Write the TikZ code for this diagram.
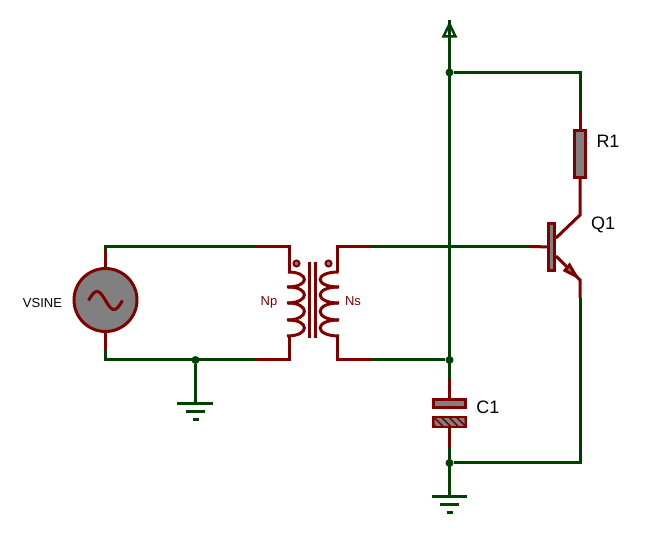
\documentclass[tikz,border=0pt]{standalone}
\usepackage{fontspec}
\setmainfont{Liberation Sans}
\definecolor{wirered}{RGB}{128,0,0}
\definecolor{wiregreen}{RGB}{0,64,0}
\definecolor{partgrey}{RGB}{128,128,128}
\tikzset{
  redwire/.style={draw=wirered, line width=3pt, line join=miter},
  greenwire/.style={draw=wiregreen, line width=3pt, line join=miter},
  part/.style={draw=wirered, fill=partgrey, line width=3pt, inner sep=0pt, outer sep=0pt},
  dot/.style={circle, fill=wiregreen, inner sep=0pt, minimum size=8pt},
  label/.style={text=black, font=\fontsize{18}{18}\selectfont, inner sep=0pt},
}
\begin{document}
\begin{tikzpicture}[x=1pt, y=-1pt]
  \useasboundingbox (0, 0) rectangle (659, 534);

  % parts
  \node[part, circle, minimum size=63pt] (vsine) at (105.5, 300) {};
  \node[part, minimum width=11pt, minimum height=47pt] (r1) at (580, 154) {};
  \node[part, minimum width=6.5pt, minimum height=47pt] (qbase) at (551.5, 247) {};
  \node[part, minimum width=32pt, minimum height=8pt] (ctop) at (449.5, 403.5) {};
  \node[part, minimum width=32pt, minimum height=9pt] (cbot) at (449.5, 422) {};

  % junctions
  \node[dot] (jtop) at (449.5, 72.5) {};
  \node[dot] (jmid) at (449.5, 360) {};
  \node[dot] (jcap) at (449.5, 463) {};
  \node[dot] (jgnd) at (195.5, 360) {};

  % wire ends
  \coordinate (vcc) at (449.5, 20);
  \coordinate (gndcap) at (449.5, 496);
  \coordinate (gndsrc) at (195.5, 403);
  \coordinate (rtop) at (580, 112);
  \coordinate (rbot) at (580, 215);
  \coordinate (srctop) at (105.5, 250);
  \coordinate (srcbot) at (105.5, 350);
  \coordinate (ptop) at (289, 272);
  \coordinate (pbot) at (289, 336);
  \coordinate (stop) at (337.5, 272);
  \coordinate (sbot) at (337.5, 336);
  \coordinate (ptopr) at (255, 246.5);
  \coordinate (pbotr) at (255, 360);
  \coordinate (stopr) at (372, 246.5);
  \coordinate (sbotr) at (372, 360);
  \coordinate (baser) at (530, 246.5);
  \coordinate (qcol) at (556, 238);
  \coordinate (qemi) at (556, 256);
  \coordinate (qtip) at (580, 280);
  \coordinate (emir) at (580, 298);
  \coordinate (ctopw) at (449.5, 380);
  \coordinate (cbotw) at (449.5, 447);

  % green wires
  \draw[greenwire] (vcc) -- (ctopw);
  \draw[greenwire] (jtop) -| (rtop);
  \draw[greenwire] (srctop) |- (ptopr);
  \draw[greenwire] (srcbot) |- (pbotr);
  \draw[greenwire] (jgnd) -- (gndsrc);
  \draw[greenwire] (stopr) -- (baser);
  \draw[greenwire] (sbotr) -- (jmid);
  \draw[greenwire] (emir) |- (jcap);
  \draw[greenwire] (cbotw) -- (gndcap);

  % red wires
  \draw[redwire] (rtop) -- (r1);
  \draw[redwire] (r1) -- (rbot) -- (qcol);
  \draw[redwire] (baser) -- (qbase);
  \draw[redwire] (qemi) -- (qtip) -- (emir);
  \draw[redwire] (srctop) -- (vsine);
  \draw[redwire] (srcbot) -- (vsine);
  \draw[redwire] (ptopr) -| (ptop);
  \draw[redwire] (pbotr) -| (pbot);
  \draw[redwire] (stopr) -| (stop);
  \draw[redwire] (sbotr) -| (sbot);
  \draw[redwire] (ctopw) -- (ctop);
  \draw[redwire] (cbot) -- (cbotw);

  % emitter arrow
  \draw[part, line join=miter] (576, 276) -- (569.5, 265) -- (565, 270.5) -- cycle;

  % hatch of the lower plate
  \begin{scope}
    \clip (434.5, 418.5) rectangle (464.5, 425.5);
    \fill[wirered] (434.5, 418.5) rectangle (464.5, 425.5);
    \foreach \x in {434, 441.5, 449, 456.5, 464}
      \draw[partgrey, line width=3.5pt] (\x - 4, 417) -- (\x + 6, 427);
  \end{scope}

  % supply arrow
  \draw[greenwire, line width=2.5pt] (449.5, 24) -- (443.5, 36.5) -- (455.5, 36.5) -- cycle;

  % grounds
  \draw[greenwire] (432, 496.5) -- (467, 496.5);
  \draw[greenwire] (440, 504.5) -- (459, 504.5);
  \draw[greenwire] (446.5, 512.5) -- (452.5, 512.5);
  \draw[greenwire] (177, 403.5) -- (213, 403.5);
  \draw[greenwire] (186, 411.5) -- (205, 411.5);
  \draw[greenwire] (192.5, 419.5) -- (198.5, 419.5);

  % sine of the source
  \draw[draw=wirered, line width=3pt, domain=-180:180, samples=40, smooth]
    plot ({105.5 + \x*17/180}, {300.5 + 9*sin(\x)});

  % transformer
  \foreach \a/\b in {272/287, 287/303, 303/320, 320/336} {
    \draw[draw=wirered, line width=3pt] (288, \a) .. controls (310, \a) and (310, \b) .. (287, \b);
    \draw[draw=wirered, line width=3pt] (338.5, \a) .. controls (314, \a) and (314, \b) .. (339, \b);
  }
  \draw[draw=wirered, line width=3pt] (309.5, 262) -- (309.5, 338);
  \draw[draw=wirered, line width=3pt] (315.5, 262) -- (315.5, 338);
  \draw[draw=wirered, fill=partgrey, line width=2pt] (296.5, 263.5) circle (3);
  \draw[draw=wirered, fill=partgrey, line width=2pt] (328.5, 263.5) circle (3);

  % labels
  \node[label] (r1lab) at (608, 141) {R1};
  \node[label] (q1lab) at (603, 225) {Q1};
  \node[label] (c1lab) at (488, 407) {C1};
  \node[label, font=\fontsize{13}{13}\selectfont] (vlab) at (42.5, 303) {VSINE};
  \node[label, text=wirered, font=\fontsize{13}{13}\selectfont] (nplab) at (269, 302) {Np};
  \node[label, text=wirered, font=\fontsize{13}{13}\selectfont] (nslab) at (353, 301) {Ns};
\end{tikzpicture}
\end{document}
